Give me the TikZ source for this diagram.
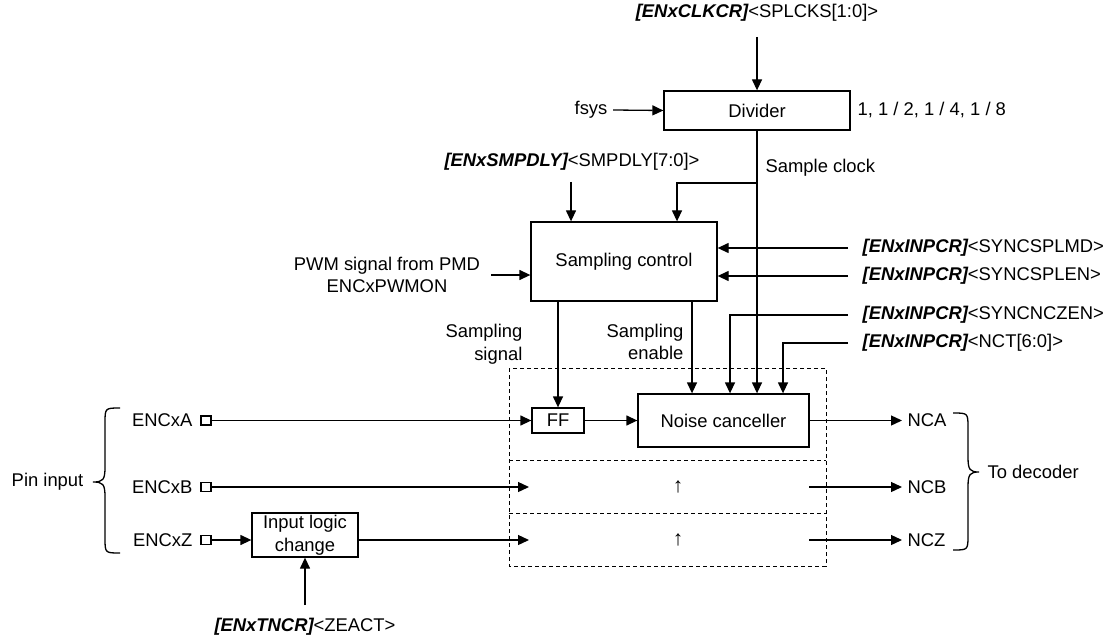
\documentclass[tikz,border=0pt]{standalone}
\usepackage{fontspec}
\setmainfont{Liberation Sans}
\usetikzlibrary{arrows.meta}
\begin{document}
\begin{tikzpicture}[x=0.5pt,y=-0.5pt, line width=0.65pt,
  font=\fontsize{9.2pt}{11.4pt}\selectfont,
  box/.style={draw, inner sep=0pt, align=center},
  lbl/.style={inner sep=0pt, align=center},
  outlbl/.style={inner sep=0pt, inner xsep=2.5pt, anchor=west},
  arr/.style={-{Triangle[length=5.5pt,width=5pt]}},
  pin/.style={draw, minimum width=5pt, minimum height=4.5pt, inner sep=0pt},
  region/.style={dash pattern=on 2pt off 1.5pt, line width=0.5pt},
  brc/.style={line width=0.65pt}
]
\newcommand{\regname}[1]{{\bfseries\itshape #1}}
\useasboundingbox (0,0) rectangle (1112,636);

% boxes
\node[box, minimum width=93pt, minimum height=19.5pt] (div) at (757,110.5) {Divider};
\node[box, minimum width=93pt, minimum height=39.5pt] (smp) at (624,261.5) {Sampling control};
\node[box, minimum width=26pt, minimum height=12.5pt] (ff) at (558,420.5) {FF};
\node[box, minimum width=85.5pt, minimum height=26.5pt] (nc) at (723.5,420.5) {Noise canceller};
\node[box, minimum width=53pt, minimum height=22pt] (ilc) at (305,535) {Input logic\\change};

% dashed regions
\draw[region] (509,368) rectangle (826,566);
\draw[region] (509,460) -- (826,460);
\draw[region] (509,513) -- (826,513);

% top clock source
\node[lbl] (clk) at (757,13) {\regname{[ENxCLKCR]}<SPLCKS[1:0]>};
\coordinate (clkA) at (757,37);
\draw[arr] (clkA) -- (div.north);
\node[lbl, anchor=east] (fsys) at (608,110) {fsys};
\draw[arr] ([xshift=2.5pt]fsys.east) -- (div.west);
\node[lbl, anchor=west] (ratio) at (857,110) {1, 1 / 2, 1 / 4, 1 / 8};

% sample clock
\coordinate (br) at (757,183);
\coordinate (brL) at (677,183);
\draw (div.south) -- (br);
\draw[arr] (br) -- (br |- nc.north);
\draw[arr] (br) -- (brL) -- (brL |- smp.north);
\node[lbl, anchor=west] (sclk) at (765,168) {Sample clock};

% SMPDLY
\node[lbl] (dly) at (572,162) {\regname{[ENxSMPDLY]}<SMPDLY[7:0]>};
\coordinate (dlyA) at (571,182);
\draw[arr] (dlyA) -- (dlyA |- smp.north);

% PWM
\node[lbl] (pwm) at (387,275) {PWM signal from PMD\\ENCxPWMON};
\coordinate (pwmA) at (491,275);
\draw[arr] (pwmA) -- (pwmA -| smp.west);

% right register inputs
\node[lbl, anchor=west] (r1) at (862,248) {\regname{[ENxINPCR]}<SYNCSPLMD>};
\node[lbl, anchor=west] (r2) at (862,276) {\regname{[ENxINPCR]}<SYNCSPLEN>};
\node[lbl, anchor=west] (r3) at (862,315) {\regname{[ENxINPCR]}<SYNCNCZEN>};
\node[lbl, anchor=west] (r4) at (862,343) {\regname{[ENxINPCR]}<NCT[6:0]>};
\coordinate (r1A) at (848,248);
\coordinate (r2A) at (848,276);
\coordinate (r3A) at (848,315);
\coordinate (r4A) at (848,343);
\coordinate (r3B) at (730,315);
\coordinate (r4B) at (783,343);
\draw[arr] (r1A) -- (r1A -| smp.east);
\draw[arr] (r2A) -- (r2A -| smp.east);
\draw[arr] (r3A) -- (r3B) -- (r3B |- nc.north);
\draw[arr] (r4A) -- (r4B) -- (r4B |- nc.north);

% sampling signal / enable
\draw[arr] (ff.north |- smp.south) -- (ff.north);
\node[lbl, anchor=east, align=right] (ssig) at (523,344) {Sampling\\signal};
\coordinate (seA) at (692,301);
\draw[arr] (seA) -- (seA |- nc.north);
\node[lbl, anchor=east, align=right] (sen) at (684,342) {Sampling\\enable};

% pins
\node[pin] (pa) at (206,420.5) {};
\node[pin] (pb) at (206,487) {};
\node[pin] (pz) at (206,540) {};
\node[lbl, anchor=east] (la) at (193,420.5) {ENCxA};
\node[lbl, anchor=east] (lb) at (193,487) {ENCxB};
\node[lbl, anchor=east] (lz) at (193,540) {ENCxZ};

\draw[arr] (pa) -- (ff);
\draw[arr] (ff) -- (nc);
\coordinate (bend) at (529,487);
\draw[arr] (pb) -- (bend);
\draw[arr] (pz) -- (pz -| ilc.west);
\coordinate (zend) at (529,540);
\draw[arr] (ilc.east |- pz) -- (zend);
\node[lbl, font=\fontsize{10.5pt}{12pt}\selectfont] (upb) at (678,487) {↑};
\node[lbl, font=\fontsize{10.5pt}{12pt}\selectfont] (upz) at (678,540) {↑};

% outputs
\node[outlbl] (nca) at (902,420.5) {NCA};
\node[outlbl] (ncb) at (902,487) {NCB};
\node[outlbl] (ncz) at (902,540) {NCZ};
\coordinate (bout) at (809,487);
\coordinate (zout) at (809,540);
\draw[arr] (nc) -- (nca);
\draw[arr] (bout) -- (ncb);
\draw[arr] (zout) -- (ncz);

% bottom register
\node[lbl] (tncr) at (305,627) {\regname{[ENxTNCR]}<ZEACT>};
\coordinate (tnA) at (305,605);
\draw[arr] (tnA) -- (ilc.south);

% braces
\draw[brc] (120,408) .. controls (105,408) and (105,408) .. (105,423) -- (105,467)
  .. controls (105,480) and (103,482) .. (93,482)
  .. controls (103,482) and (105,484) .. (105,497) -- (105,538)
  .. controls (105,553) and (105,553) .. (120,553);
\node[lbl, anchor=east] (pin) at (84,482) {Pin input};

\draw[brc] (953,413) .. controls (968,413) and (968,413) .. (968,428) -- (968,457)
  .. controls (968,470) and (970,472) .. (979,472)
  .. controls (970,472) and (968,474) .. (968,487) -- (968,535)
  .. controls (968,550) and (968,550) .. (953,550);
\node[lbl, anchor=west] (dec) at (987,472) {To decoder};
\end{tikzpicture}
\end{document}
